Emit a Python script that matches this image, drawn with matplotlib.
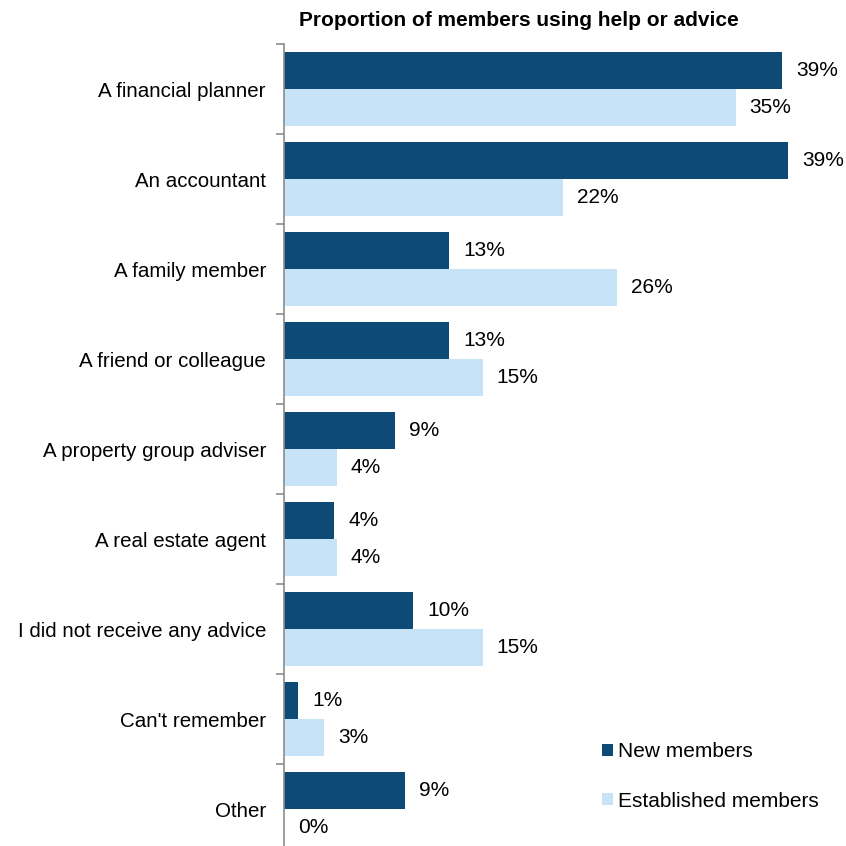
import matplotlib
matplotlib.use('Agg')
import matplotlib.pyplot as plt
import numpy as np

plt.rcParams['font.family'] = ['Liberation Sans', 'DejaVu Sans']

categories = ['A financial planner', 'An accountant', 'A family member',
              'A friend or colleague', 'A property group adviser',
              'A real estate agent', 'I did not receive any advice',
              "Can't remember", 'Other']
new_members = [38.6, 39.1, 12.8, 12.8, 8.6, 3.9, 10.0, 1.1, 9.4]
established = [35.0, 21.6, 25.8, 15.4, 4.1, 4.1, 15.4, 3.1, 0.0]
series_labels = ['New members', 'Established members']

dark = '#0D4A75'
light = '#C6E3F7'

fig = plt.figure(figsize=(8.46, 8.46), dpi=100)
ax = fig.add_axes([0.3357, -0.0095, 0.6557, 0.9574])

y = np.arange(len(categories))
h = 0.41
bars_new = ax.barh(y - h / 2, new_members, h, color=dark, label=series_labels[0])
bars_est = ax.barh(y + h / 2, established, h, color=light, label=series_labels[1])

ax.set_xlim(0, 43)
ax.set_ylim(len(categories) - 0.5, -0.5)

# category names at centres, tick marks on the group boundaries
ax.set_yticks(y)
ax.set_yticklabels(categories, fontsize=14.8)
ax.tick_params(axis='y', which='major', length=0, pad=13)
ax.set_yticks(np.arange(len(categories) + 1) - 0.5, minor=True)
ax.tick_params(axis='y', which='minor', length=6, width=1.2, color='#8C8C8C')
ax.set_xticks([])

for side in ['top', 'right', 'bottom']:
    ax.spines[side].set_visible(False)
ax.spines['left'].set_color('#8C8C8C')
ax.spines['left'].set_linewidth(1.2)


def autolabel(rects):
    """Write the rounded percentage just to the right of each bar."""
    for rect in rects:
        w = rect.get_width()
        ax.annotate('{:.0f}%'.format(w),
                    xy=(w, rect.get_y() + rect.get_height() / 2),
                    xytext=(10, 0), textcoords='offset points',
                    ha='left', va='center', fontsize=15)


autolabel(bars_new)
autolabel(bars_est)

fig.text(0.6135, 0.976, 'Proportion of members using help or advice',
         ha='center', va='center', fontsize=15, fontweight='bold')

ax.legend(loc='upper left', bbox_to_anchor=(592 / 846, 1 - 732 / 846),
          bbox_transform=fig.transFigure, frameon=False, fontsize=15,
          handlelength=0.53, handleheight=0.53, handletextpad=0.2,
          labelspacing=1.45, borderpad=0)

fig.savefig('out.png', dpi=100)
